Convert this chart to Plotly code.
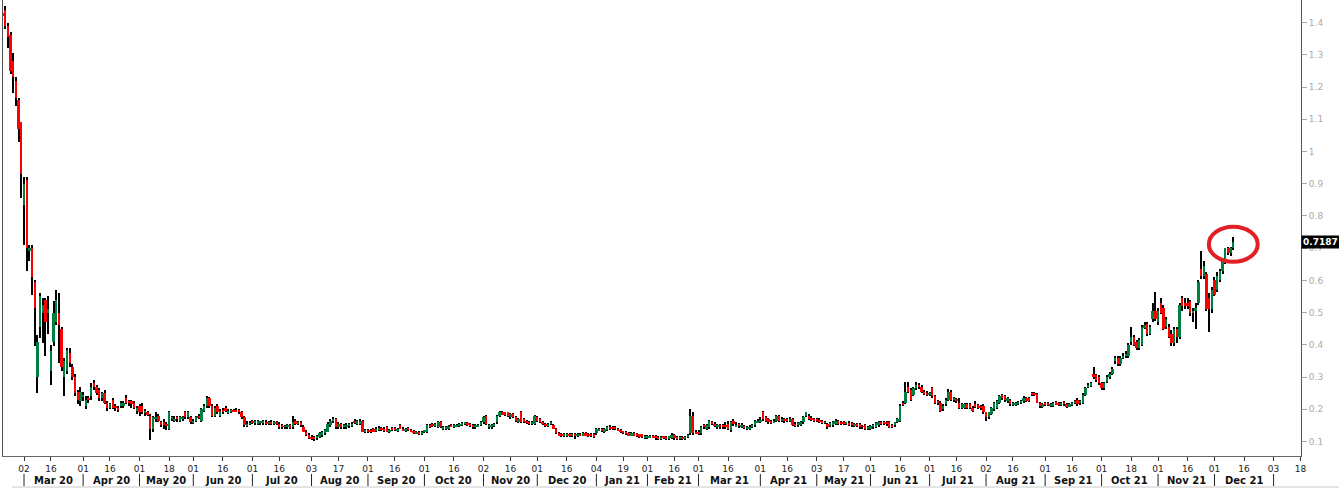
import pandas as pd
import plotly.graph_objects as go

# ---------------- calendar (trading days, category axis) ----------------
HOLIDAYS = ["2020-04-10", "2020-05-25", "2020-07-03", "2020-09-07", "2020-11-26", "2020-12-25",
            "2021-01-01", "2021-01-18", "2021-02-15", "2021-04-02", "2021-05-31", "2021-07-05",
            "2021-09-06", "2021-11-25", "2021-12-24", "2022-01-17"]
all_days = pd.bdate_range("2020-02-19", "2022-01-31")
all_days = all_days[~all_days.isin(pd.to_datetime(HOLIDAYS))]

# ---------------- OHLC values (in thousandths) ----------------
open_k = [
    1420, 1440, 1390, 1360, 1280, 1220, 1160, 1090,  # Feb 20
    835, 910, 690, 700, 595, 300, 455, 500, 540, 500, 320, 410, 470, 500, 450, 300, 320, 375, 330, 300, 255, 225,  # Mar 20
    240, 210, 235, 240, 280, 270, 260, 235, 250, 220, 205, 230, 210, 205, 210, 210, 235, 225, 225, 220, 195,  # Apr 20
    210, 210, 190, 190, 180, 140, 170, 180, 160, 160, 155, 140, 170, 165, 175, 165, 172, 190, 175, 175,  # May 20
    160, 165, 180, 165, 195, 210, 235, 210, 180, 210, 180, 198, 205, 190, 193, 197, 197, 196, 190, 175, 150, 155,  # Jun 20
    162, 158, 157, 158, 158, 162, 155, 162, 157, 160, 155, 150, 145, 145, 150, 145, 165, 155, 160, 145, 130, 120,  # Jul 20
    115, 115, 110, 115, 120, 125, 130, 150, 163, 170, 145, 155, 145, 145, 148, 150, 163, 155, 155, 165, 130,  # Aug 20
    135, 135, 140, 135, 138, 140, 140, 145, 130, 140, 140, 135, 150, 140, 135, 140, 135, 133, 125, 130, 125,  # Sep 20
    130, 130, 150, 155, 150, 145, 160, 140, 140, 140, 150, 145, 148, 150, 152, 155, 157, 155, 150, 145, 148, 152,  # Oct 20
    160, 180, 145, 145, 148, 160, 180, 190, 190, 190, 175, 185, 175, 160, 190, 170, 165, 160, 155, 155,  # Nov 20
    175, 170, 160, 155, 150, 155, 150, 140, 125, 122, 118, 119, 122, 118, 122, 118, 123, 120, 125, 123, 122, 122,  # Dec 20
    125, 135, 140, 130, 135, 145, 145, 145, 140, 135, 130, 130, 125, 120, 125, 122, 122, 122, 112,  # Jan 21
    113, 113, 118, 117, 115, 110, 115, 114, 110, 112, 120, 113, 110, 113, 110, 115, 125, 180, 130,  # Feb 21
    130, 125, 150, 140, 145, 160, 155, 145, 150, 150, 150, 155, 135, 165, 148, 152, 148, 148, 140, 140, 145, 150, 160,  # Mar 21
    162, 190, 175, 170, 165, 160, 165, 180, 165, 170, 170, 165, 170, 155, 150, 152, 160, 180, 180, 172, 170,  # Apr 21
    168, 168, 165, 158, 155, 148, 150, 155, 165, 160, 158, 155, 158, 158, 150, 155, 155, 148, 150, 140,  # May 21
    140, 145, 145, 150, 160, 160, 160, 160, 150, 150, 160,  # Jun 1-15 21
    165, 220, 220, 270, 260, 245, 265, 275, 270, 255, 252, 245, 265, 240, 225, 220, 200, 215, 230, 255,
    229, 232, 220, 205, 205, 215, 215, 205, 215, 212, 208, 210, 190, 175, 185, 200, 205, 220, 245, 240,
    225, 230, 215, 215, 218, 220, 225, 235, 235, 250, 250, 248, 220, 208, 220, 220, 212, 210, 222, 220,
    214, 222, 216, 210, 215, 220, 230, 220, 220, 245, 270, 275, 310, 305, 300, 280, 265, 285, 300, 310,
    350, 360, 340, 360, 365, 365, 410, 425, 410, 390, 400, 455, 465, 435, 480, 505, 470, 530, 515, 455,
    455, 435, 405, 450, 425, 545, 530, 530, 535, 500, 505, 530, 635, 615, 620, 545, 510, 600, 570, 600,
    630, 655, 700, 685, 700,  # Jun 16 - Dec 10 21
]
high_k = [
    1440, 1450, 1400, 1370, 1305, 1230, 1165, 1090,
    920, 920, 710, 710, 600, 430, 560, 545, 545, 550, 400, 535, 570, 560, 455, 360, 390, 390, 340, 310, 260, 270,
    255, 240, 240, 280, 290, 275, 265, 255, 260, 225, 220, 235, 215, 210, 225, 225, 245, 230, 230, 225, 210,
    215, 220, 200, 195, 185, 180, 190, 185, 165, 170, 160, 195, 180, 180, 180, 180, 180, 195, 195, 180,
    170, 180, 185, 205, 215, 240, 238, 215, 210, 215, 200, 205, 210, 200, 200, 202, 205, 200, 195, 178, 165, 165,
    168, 166, 168, 165, 166, 166, 163, 168, 163, 165, 160, 155, 152, 155, 155, 180, 170, 165, 165, 150, 135, 125,
    120, 118, 120, 128, 133, 140, 160, 170, 175, 172, 160, 158, 155, 157, 158, 160, 170, 168, 170, 168, 140,
    140, 138, 143, 145, 147, 145, 144, 148, 138, 145, 145, 142, 153, 145, 142, 144, 140, 137, 133, 134, 134,
    137, 153, 155, 158, 158, 163, 163, 148, 148, 152, 154, 153, 155, 158, 160, 162, 160, 158, 153, 153, 155, 163,
    178, 183, 155, 153, 158, 183, 195, 194, 193, 192, 188, 188, 178, 173, 195, 173, 168, 163, 163, 183,
    180, 173, 165, 158, 158, 165, 153, 143, 128, 126, 126, 126, 125, 126, 126, 126, 126, 128, 128, 126, 125, 125,
    143, 143, 143, 143, 148, 150, 148, 148, 143, 138, 134, 133, 128, 128, 128, 125, 124, 124, 120,
    120, 120, 121, 120, 118, 118, 118, 116, 118, 125, 123, 116, 116, 116, 118, 123, 200, 190, 135,
    135, 148, 155, 155, 168, 165, 160, 155, 155, 155, 160, 165, 165, 170, 160, 156, 156, 150, 147, 150, 155, 168, 170,
    175, 195, 178, 173, 168, 170, 182, 183, 175, 173, 173, 175, 173, 160, 160, 163, 178, 193, 185, 178, 173,
    172, 172, 168, 164, 158, 162, 163, 170, 168, 163, 163, 162, 165, 162, 158, 158, 158, 150, 153, 148,
    150, 153, 160, 163, 163, 163, 163, 163, 153, 162, 173,
    215, 225, 285, 285, 265, 270, 285, 280, 275, 260, 256, 255, 270, 245, 230, 225, 215, 235, 262, 260,
    238, 236, 236, 220, 220, 218, 218, 210, 225, 215, 212, 215, 193, 192, 208, 222, 228, 245, 248, 243,
    238, 233, 224, 224, 226, 228, 240, 238, 238, 255, 253, 252, 224, 218, 224, 224, 220, 224, 226, 224,
    222, 226, 220, 220, 224, 230, 234, 230, 250, 270, 282, 285, 330, 310, 305, 285, 285, 305, 315, 330,
    365, 365, 365, 375, 380, 405, 455, 430, 415, 420, 460, 470, 470, 460, 530, 565, 515, 545, 525, 485,
    465, 445, 455, 455, 530, 550, 545, 545, 540, 515, 530, 600, 690, 660, 625, 560, 580, 610, 625, 635,
    665, 700, 705, 705, 735,
]
low_k = [
    1410, 1380, 1320, 1240, 1180, 1140, 1030, 855,
    710, 630, 660, 555, 395, 250, 420, 405, 365, 435, 275, 395, 460, 345, 320, 240, 310, 330, 290, 240, 215, 210,
    225, 200, 220, 230, 260, 245, 225, 225, 215, 195, 200, 200, 195, 190, 205, 205, 215, 210, 205, 200, 185,
    180, 185, 180, 180, 105, 130, 160, 160, 145, 140, 135, 135, 165, 160, 160, 160, 165, 170, 170, 155,
    155, 160, 170, 160, 190, 205, 205, 175, 175, 185, 175, 185, 190, 185, 188, 190, 190, 185, 170, 145, 145, 150,
    155, 152, 152, 150, 152, 150, 150, 152, 150, 150, 140, 140, 138, 140, 138, 140, 150, 150, 145, 128, 118, 108,
    105, 102, 105, 110, 115, 120, 128, 145, 158, 140, 140, 140, 140, 140, 143, 145, 155, 150, 150, 128, 125,
    127, 127, 128, 130, 134, 134, 130, 128, 126, 134, 132, 130, 138, 132, 130, 133, 128, 122, 122, 120, 120,
    126, 126, 142, 146, 146, 142, 142, 136, 136, 136, 144, 142, 144, 146, 148, 150, 148, 144, 140, 140, 144, 148,
    155, 150, 140, 140, 144, 155, 176, 182, 180, 176, 170, 172, 162, 156, 156, 156, 155, 150, 150, 150,
    160, 156, 150, 145, 145, 150, 138, 122, 116, 114, 114, 115, 114, 114, 108, 114, 116, 116, 116, 114, 114, 112,
    120, 132, 130, 127, 132, 137, 137, 136, 132, 126, 124, 121, 116, 116, 116, 114, 112, 110, 108,
    108, 110, 110, 106, 106, 106, 108, 106, 106, 108, 106, 106, 105, 106, 106, 110, 120, 120, 122,
    120, 120, 140, 136, 140, 150, 145, 140, 140, 140, 140, 135, 130, 148, 144, 142, 142, 138, 135, 136, 141, 146, 156,
    158, 165, 160, 155, 155, 156, 160, 160, 160, 158, 160, 160, 148, 145, 145, 148, 155, 176, 166, 163, 160,
    160, 158, 155, 153, 140, 144, 146, 150, 150, 150, 150, 150, 148, 145, 146, 145, 140, 140, 136, 136,
    136, 140, 142, 146, 150, 150, 148, 142, 142, 146, 156,
    160, 210, 215, 250, 225, 240, 260, 262, 250, 245, 240, 240, 235, 215, 212, 190, 195, 210, 225, 225,
    224, 220, 200, 200, 200, 200, 200, 190, 205, 200, 198, 185, 165, 170, 182, 196, 200, 216, 230, 224,
    220, 210, 210, 210, 213, 216, 220, 222, 222, 240, 240, 218, 205, 203, 210, 210, 208, 206, 212, 210,
    210, 210, 205, 206, 210, 215, 210, 214, 216, 240, 265, 270, 295, 285, 275, 260, 260, 280, 295, 305,
    340, 335, 335, 355, 360, 360, 400, 395, 385, 385, 395, 450, 428, 430, 470, 475, 460, 495, 445, 448,
    420, 395, 395, 405, 418, 505, 510, 510, 490, 470, 450, 525, 605, 605, 505, 440, 500, 550, 565, 595,
    620, 650, 680, 675, 695,
]
close_k = [
    1430, 1390, 1355, 1250, 1230, 1165, 1070, 930,
    900, 700, 700, 610, 515, 410, 550, 525, 470, 510, 380, 500, 540, 460, 330, 350, 385, 345, 300, 250, 230, 255,
    245, 230, 230, 270, 270, 250, 235, 250, 220, 205, 215, 205, 205, 200, 220, 220, 220, 220, 215, 205, 205,
    190, 190, 195, 185, 140, 175, 175, 165, 150, 150, 150, 190, 175, 170, 170, 175, 177, 175, 190, 160,
    165, 175, 175, 200, 210, 235, 210, 180, 205, 190, 195, 190, 195, 195, 196, 193, 193, 192, 175, 150, 155, 157,
    158, 162, 163, 162, 163, 155, 160, 157, 158, 155, 145, 145, 148, 150, 143, 160, 155, 160, 150, 130, 120, 110,
    110, 108, 117, 125, 130, 135, 155, 165, 170, 145, 155, 145, 150, 152, 155, 155, 160, 163, 165, 130, 135,
    130, 130, 130, 140, 143, 138, 135, 130, 135, 137, 137, 138, 140, 135, 138, 137, 130, 125, 130, 125, 130,
    133, 150, 145, 150, 155, 160, 145, 145, 145, 148, 148, 150, 152, 155, 157, 158, 152, 148, 145, 150, 152, 160,
    175, 155, 150, 150, 155, 180, 190, 185, 185, 180, 185, 175, 165, 170, 160, 160, 160, 155, 160, 180,
    165, 160, 155, 150, 155, 162, 140, 125, 120, 118, 122, 123, 118, 122, 118, 122, 120, 125, 120, 118, 118, 117,
    140, 140, 135, 140, 145, 140, 140, 140, 135, 130, 128, 125, 120, 125, 120, 118, 116, 115, 118,
    118, 118, 113, 110, 110, 115, 112, 110, 116, 120, 110, 110, 113, 110, 115, 120, 180, 125, 125,
    125, 145, 145, 150, 165, 155, 150, 150, 145, 145, 145, 140, 160, 155, 152, 150, 152, 142, 143, 145, 152, 165, 165,
    166, 170, 165, 160, 160, 165, 180, 165, 170, 165, 165, 170, 150, 150, 157, 160, 175, 190, 170, 168, 165,
    165, 163, 160, 160, 145, 158, 160, 165, 155, 155, 155, 158, 153, 150, 155, 150, 145, 145, 140, 145,
    147, 150, 157, 160, 155, 155, 155, 145, 145, 160, 170,
    210, 215, 255, 255, 230, 265, 275, 270, 255, 250, 245, 250, 240, 220, 220, 195, 210, 230, 255, 230,
    232, 225, 205, 215, 215, 205, 205, 195, 210, 205, 205, 190, 175, 190, 205, 220, 225, 240, 235, 230,
    235, 215, 220, 220, 222, 225, 235, 225, 225, 245, 245, 220, 210, 215, 215, 215, 217, 220, 216, 214,
    218, 215, 210, 215, 220, 225, 215, 225, 245, 265, 275, 280, 300, 290, 280, 265, 280, 300, 310, 325,
    360, 340, 360, 365, 372, 400, 425, 400, 390, 415, 455, 460, 435, 455, 505, 480, 505, 500, 450, 480,
    425, 405, 450, 425, 525, 520, 520, 520, 500, 505, 515, 595, 615, 645, 510, 510, 570, 555, 615, 630,
    660, 700, 685, 700, 718.7,
]

N = len(close_k)
assert len(open_k) == len(high_k) == len(low_k) == N, (len(open_k), len(high_k), len(low_k), N)

o = [v / 1000 for v in open_k]
h = [v / 1000 for v in high_k]
lo = [v / 1000 for v in low_k]
c = [v / 1000 for v in close_k]
idx = list(range(N))

UP = "#008040"
DOWN = "#ff0000"

# ---------------- axis labels ----------------
months = pd.period_range("2020-03", "2022-01", freq="M")
tickvals, ticktext, mstart = [], [], []
for m in months:
    for d in (1, 16):
        pos = int(all_days.searchsorted(pd.Timestamp(m.year, m.month, d)))
        tickvals.append(pos)
        ticktext.append(f"{all_days[pos].day:02d}")
    mstart.append(int(all_days.searchsorted(pd.Timestamp(m.year, m.month, 1))))

y_ticks = [0.1, 0.2, 0.3, 0.4, 0.5, 0.6, 0.7, 0.8, 0.9, 1.0, 1.1, 1.2, 1.3, 1.4]
y_text = ["0.1", "0.2", "0.3", "0.4", "0.5", "0.6", "0.7", "0.8", "0.9", "1", "1.1", "1.2", "1.3", "1.4"]

fig = go.Figure()
# wicks
fig.add_trace(go.Bar(x=idx, y=[hh - ll for hh, ll in zip(h, lo)], base=lo, width=0.38,
                     marker=dict(color="#000000", line=dict(width=0)), hoverinfo="skip"))
# bodies
fig.add_trace(go.Bar(x=idx, y=[abs(cc - oo) for oo, cc in zip(o, c)],
                     base=[min(oo, cc) for oo, cc in zip(o, c)], width=0.88,
                     marker=dict(color=[UP if cc >= oo else DOWN for oo, cc in zip(o, c)], line=dict(width=0)),
                     hoverinfo="skip"))

PLOT_H = 456.0
def py(px):
    return (PLOT_H - px) / PLOT_H

shapes = []
annotations = []
for i, m in enumerate(months):
    shapes.append(dict(type="line", xref="x", yref="paper", x0=mstart[i], x1=mstart[i],
                       y0=py(474), y1=py(486), line=dict(color="#222222", width=1)))
    if i < len(months) - 1:
        annotations.append(dict(x=(mstart[i] + mstart[i + 1]) / 2, y=py(480), xref="x", yref="paper",
                                text=f"<b>{m.strftime('%b')} {m.strftime('%y')}</b>", showarrow=False,
                                xanchor="center", yanchor="middle",
                                font=dict(family="DejaVu Sans", size=10, color="#111111")))

# bottom grey strip
shapes.append(dict(type="rect", xref="paper", yref="paper", x0=0.007, x1=1.03, y0=py(488), y1=py(486),
                   fillcolor="#e4e4e4", line=dict(width=0), layer="below"))

# red ellipse around last candle
last = N - 1
shapes.append(dict(type="circle", xref="x", yref="y", x0=last - 9.1, x1=last + 9.1,
                   y0=c[-1] - 0.061, y1=c[-1] + 0.048, line=dict(color="#e31e24", width=4)))

# last price label
annotations.append(dict(x=1, y=c[-1], xref="paper", yref="y", text=f"<b>{c[-1]:.4f}</b>",
                        showarrow=False, xanchor="left", yanchor="middle", bgcolor="#000000",
                        borderpad=1, font=dict(family="DejaVu Sans", size=9, color="#ffffff")))

fig.update_layout(
    width=1339, height=488,
    margin=dict(l=3, r=38, t=0, b=32),
    paper_bgcolor="#ffffff", plot_bgcolor="#ffffff",
    showlegend=False, barmode="overlay", bargap=0,
    font=dict(family="DejaVu Sans"),
    shapes=shapes, annotations=annotations,
    xaxis=dict(range=[0.186, 483.2], tickvals=tickvals, ticktext=ticktext, tickangle=0,
               ticks="outside", ticklen=4, tickcolor="#333333", tickwidth=1,
               tickfont=dict(family="DejaVu Sans", size=9, color="#222222"),
               showline=True, linecolor="#666666", linewidth=1, showgrid=False, zeroline=False),
    yaxis=dict(side="right", range=[0.055, 1.47], tickvals=y_ticks, ticktext=y_text,
               ticks="outside", ticklen=5, tickcolor="#aaaaaa",
               tickfont=dict(family="DejaVu Sans", size=9, color="#aaaaaa"),
               showline=True, linecolor="#555555", linewidth=1, mirror=True,
               showgrid=False, zeroline=False),
)

fig.write_html("out.html", config={"displayModeBar": False},
               post_script="document.body.style.margin='0';document.body.style.padding='0';")
